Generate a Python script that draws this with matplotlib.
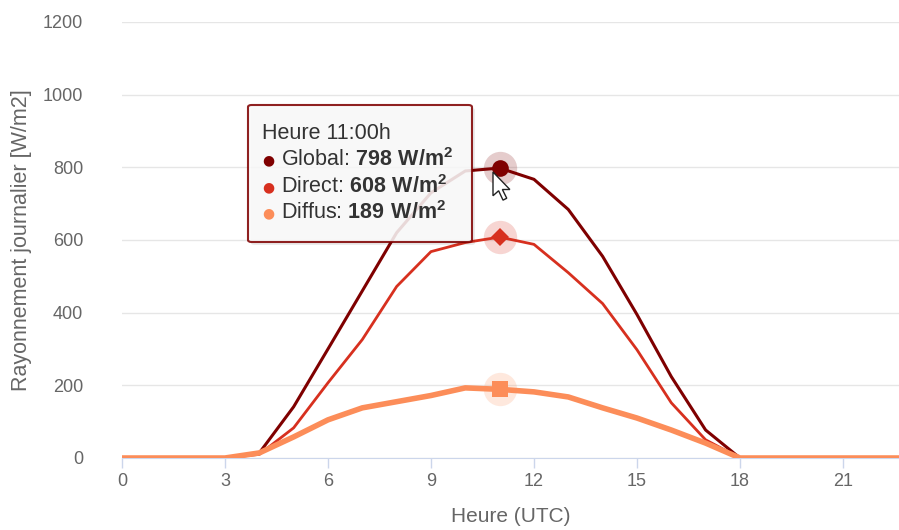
import matplotlib.pyplot as plt
from matplotlib.patches import FancyBboxPatch, Polygon

plt.rcParams['font.family'] = ['Liberation Sans', 'DejaVu Sans']
plt.rcParams['mathtext.fontset'] = 'custom'
plt.rcParams['mathtext.rm'] = 'Liberation Sans'
plt.rcParams['mathtext.bf'] = 'Liberation Sans:bold'

# hourly values (UTC)
hours = list(range(24))
global_w = [0, 0, 0, 0, 14, 141, 300, 460, 620, 730, 790, 798, 767, 684, 555, 395, 224, 77, 0, 0, 0, 0, 0, 0]
direct_w = [0, 0, 0, 0, 10, 83, 207, 326, 472, 568, 593, 608, 588, 510, 425, 298, 152, 50, 0, 0, 0, 0, 0, 0]
diffus_w = [0, 0, 0, 0, 14, 58, 105, 138, 155, 172, 193, 189, 182, 168, 138, 110, 77, 41, 0, 0, 0, 0, 0, 0]
hover_hour = 11

c_global = '#7f0000'
c_direct = '#d7301f'
c_diffus = '#fc8d59'

W, H = 899, 530
fig = plt.figure(figsize=(W / 100, H / 100), dpi=100)
ax = fig.add_axes([122 / W, 1 - 458 / H, (W - 122) / W, (458 - 22) / H])

ax.plot(hours, global_w, color=c_global, lw=2.2, zorder=3)
ax.plot(hours, direct_w, color=c_direct, lw=2.0, zorder=4)
ax.plot(hours, diffus_w, color=c_diffus, lw=4.0, zorder=5, solid_capstyle='butt')

# hover markers with halo
h = hover_hour
for vals, col, mk, ms in [(global_w, c_global, 'o', 12), (direct_w, c_direct, 'D', 9), (diffus_w, c_diffus, 's', 12)]:
    ax.plot([h], [vals[h]], marker='o', ms=24, color=col, alpha=0.2, mew=0, zorder=6, clip_on=False)
    ax.plot([h], [vals[h]], marker=mk, ms=ms, color=col, mew=0, zorder=7)

ax.set_xlim(0, (W - 122) / 34.33)
ax.set_ylim(0, 1200)
ax.set_xticks(range(0, 22, 3))
ax.set_yticks(range(0, 1201, 200))
ax.grid(axis='y', color='#e6e6e6', lw=1)
ax.set_axisbelow(True)
for s in ['top', 'right', 'left']:
    ax.spines[s].set_visible(False)
ax.spines['bottom'].set_color('#ccd6eb')
ax.tick_params(axis='x', colors='#ccd6eb', length=7, width=1, labelcolor='#666666', labelsize=13, pad=4)
ax.tick_params(axis='y', length=0, labelcolor='#666666', labelsize=13, pad=28)
ax.set_xlabel('Heure (UTC)', color='#666666', fontsize=15, labelpad=12)


def fx(px):
    return px / W


def fy(py):
    return 1 - py / H


fig.text(fx(22), fy(240), 'Rayonnement journalier [W/m2]', rotation=90, color='#666666', fontsize=15.5,
         ha='center', va='center')

# tooltip
shadow = FancyBboxPatch((fx(251), fy(245)), fx(224), 137 / H, boxstyle='round,pad=0,rounding_size=0.004',
                        transform=fig.transFigure, fc='black', alpha=0.08, ec='none', zorder=8)
box = FancyBboxPatch((fx(248), fy(242)), fx(224), 137 / H, boxstyle='round,pad=0,rounding_size=0.004',
                     transform=fig.transFigure, fc='#fafafa', alpha=0.87, ec=c_global, lw=1.5, zorder=9)
fig.add_artist(shadow)
fig.add_artist(box)
fig.text(fx(262), fy(133), f'Heure {hover_hour}:00h', fontsize=15.5, color='#333333', va='center', zorder=10)
rows = [('Global', global_w, c_global, 160), ('Direct', direct_w, c_direct, 187), ('Diffus', diffus_w, c_diffus, 213)]
for name, vals, col, py in rows:
    fig.text(fx(268), fy(py), '\u25cf', fontsize=10, color=col, ha='center', va='center', zorder=10,
             family='DejaVu Sans')
    fig.text(fx(281), fy(py), name + ': ' + r'$\mathbf{' + str(vals[hover_hour]) + r'\ W/m^{2}}$',
             fontsize=15.5, color='#333333', va='center', zorder=10)

# mouse cursor
cur = [(0, 0), (0, 19), (4.5, 15), (8, 22.5), (11, 21), (7.5, 14), (13.5, 14)]
tip = (493, 172)
sc = 1.25
cursor = Polygon([(fx(tip[0] + dx * sc), fy(tip[1] + dy * sc)) for dx, dy in cur], closed=True,
                 transform=fig.transFigure, fc='white', ec='#222222', lw=1, zorder=11)
fig.add_artist(cursor)

fig.savefig('out.png', dpi=100)
